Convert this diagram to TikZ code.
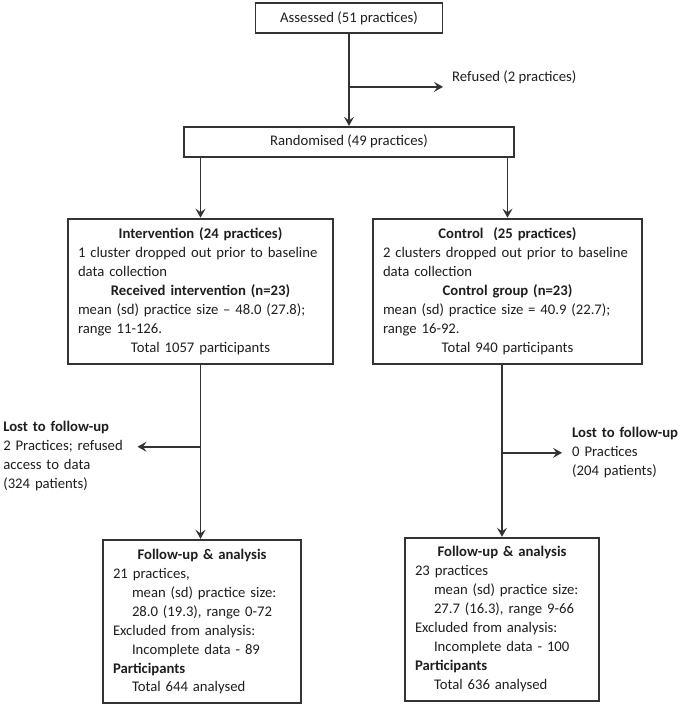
\documentclass[tikz,border=0pt]{standalone}
\usepackage{fontspec}
\setmainfont{Carlito}
\usepackage{xcolor}
\definecolor{lineDark}{HTML}{333333}
\definecolor{textDark}{HTML}{1E1E1E}
\usetikzlibrary{positioning,calc,arrows.meta}
\hyphenpenalty=10000
\newcommand{\midline}[1]{\makebox[\linewidth]{#1}}
\newcommand{\indentline}{\hspace*{19pt}}
\tikzset{
  topBox/.style={
    rectangle,
    draw=lineDark,
    line width=1.8pt,
    minimum height=30pt,
    text=textDark,
    align=center,
    font=\fontsize{14.7}{19}\selectfont
 },
  armBox/.style={
    rectangle,
    draw=lineDark,
    line width=1.8pt,
    inner xsep=10pt,
    inner ysep=9pt,
    align=left,
    text=textDark,
    font=\fontsize{14.7}{19}\selectfont
 },
  lostText/.style={
    inner xsep=0pt,
    align=left,
    text=textDark,
    font=\fontsize{14.7}{19}\selectfont
 },
  arrowLine/.style={
    -{Stealth[length=9pt,width=10pt,inset=3.5pt]},
    line width=1.7pt,
    color=lineDark
 }
}

\begin{document}
\begin{tikzpicture}[x=1pt,y=-1pt]
            \useasboundingbox (0,0) rectangle (683,707);

            \node[topBox, minimum width=187pt] (assess) at (349,18) {Assessed (51 practices)};
            \node[topBox, minimum width=330pt, below=92pt of assess] (rand) {Randomised (49 practices)};
            \draw[arrowLine] (assess) -- (rand);

            % excluded before randomisation
            \coordinate (refBr) at ($(assess.south)!0.576!(rand.north)$);
            \node[lostText, right=103pt of refBr, yshift=10pt] (refused) {Refused (2 practices)};
            \draw[arrowLine] (refBr) -- ([xshift=-9pt]refBr -| refused.west);

            \node[armBox, text width=245pt, below=60pt of rand, xshift=-148.5pt] (interv) {%
              \midline{\textbf{Intervention (24 practices)}}\\
              1 cluster dropped out prior to baseline\\
              data collection\\
              \midline{\textbf{Received intervention (n=23)}}\\
              mean (sd) practice size – 48.0 (27.8);\\
              range 11-126.\\
              \midline{Total 1057 participants}};
            \node[armBox, text width=249pt, below=60pt of rand, xshift=158.5pt] (ctrl) {%
              \midline{\textbf{Control\ \ (25 practices)}}\\
              2 clusters dropped out prior to baseline\\
              data collection\\
              \midline{\textbf{Control group (n=23)}}\\
              mean (sd) practice size = 40.9 (22.7);\\
              range 16-92.\\
              \midline{Total 940 participants}};

            \draw[arrowLine] (interv.north |- rand.south) -- (interv);
            \draw[arrowLine] (ctrl.north |- rand.south) -- (ctrl);

            \node[armBox, text width=178pt, below=174pt of interv, xshift=1.5pt] (fuL) {%
              \midline{\textbf{Follow-up \& analysis}}\\
              21 practices,\\
              \indentline mean (sd) practice size:\\
              \indentline 28.0 (19.3), range 0-72\\
              Excluded from analysis:\\
              \indentline Incomplete data - 89\\
              \textbf{Participants}\\
              \indentline Total 644 analysed};
            \node[armBox, text width=174pt, below=172pt of ctrl, xshift=-5.5pt] (fuR) {%
              \midline{\textbf{Follow-up \& analysis}}\\
              23 practices\\
              \indentline mean (sd) practice size:\\
              \indentline 27.7 (16.3), range 9-66\\
              Excluded from analysis:\\
              \indentline Incomplete data - 100\\
              \textbf{Participants}\\
              \indentline Total 636 analysed};

            \draw[arrowLine] (interv.south) -- (interv.south |- fuL.north);
            \draw[arrowLine] (fuR.north |- ctrl.south) -- (fuR);

            % lost to follow-up
            \coordinate (lostBrL) at ($(interv.south)!0.471!(interv.south |- fuL.north)$);
            \coordinate (lostBrR) at ($(fuR.north |- ctrl.south)!0.512!(fuR.north)$);
            \node[lostText, text width=124pt, left=73pt of lostBrL, yshift=-9pt] (lostL) {%
              \textbf{Lost to follow-up}\\
              2 Practices; refused\\
              access to data\\
              (324 patients)};
            \node[lostText, text width=110pt, right=70pt of lostBrR] (lostR) {%
              \textbf{Lost to follow-up}\\
              0 Practices\\
              (204 patients)};
            \draw[arrowLine] (lostBrL) -- ([xshift=10pt]lostBrL -| lostL.east);
            \draw[arrowLine] (lostBrR) -- ([xshift=-10pt]lostBrR -| lostR.west);

        \end{tikzpicture}
\end{document}
